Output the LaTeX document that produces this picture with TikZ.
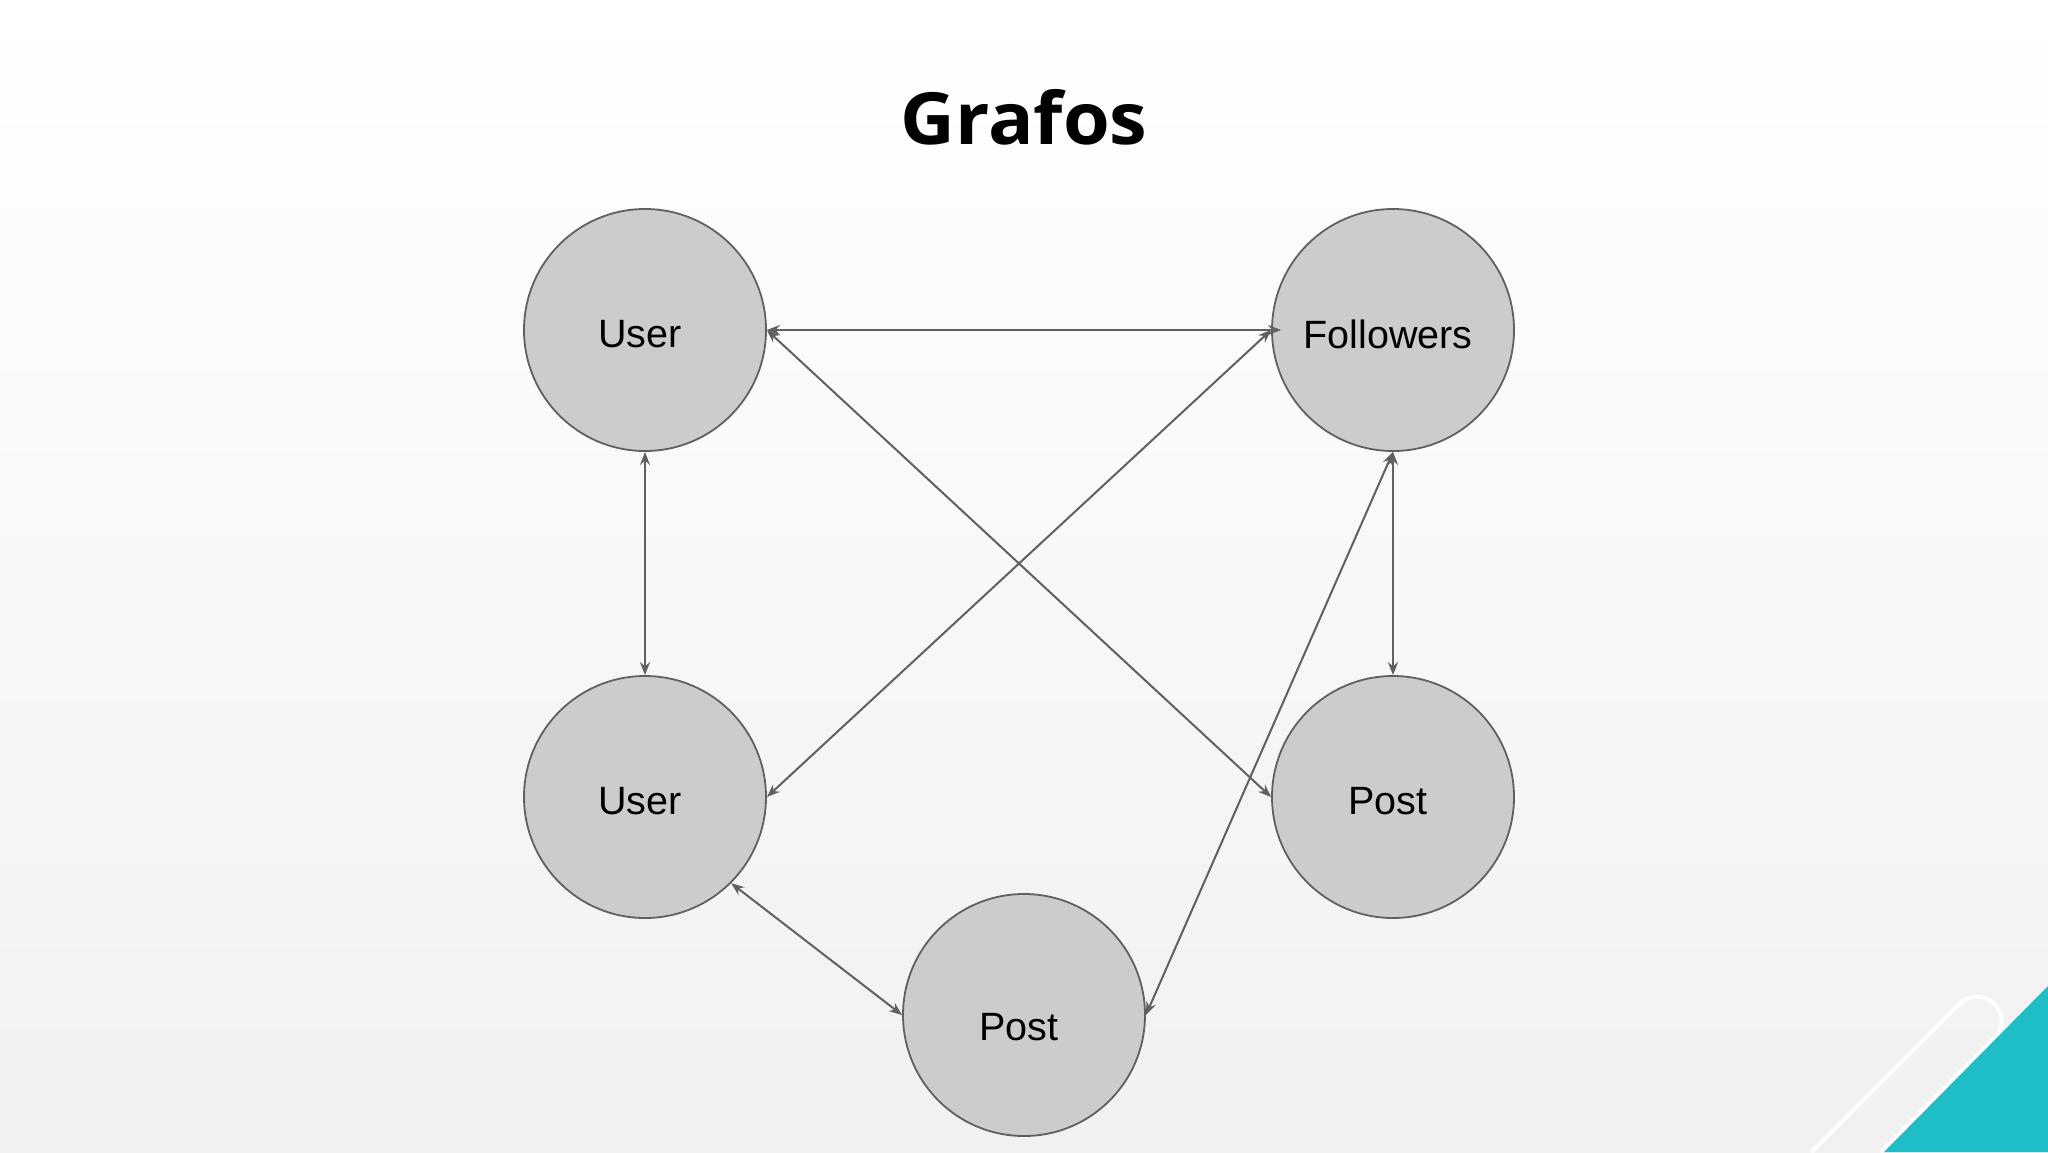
\documentclass[tikz,border=0pt]{standalone}
\usepackage{fontspec}
\setmainfont{Liberation Sans}
\newfontfamily\titlefont[FakeStretch=1.05]{Open Sans}
\usetikzlibrary{arrows.meta}
\definecolor{bgbot}{HTML}{F1F1F1}
\definecolor{nodefill}{HTML}{CCCCCC}
\definecolor{edgecol}{HTML}{606060}
\definecolor{accentteal}{HTML}{1FBDC6}
\newcommand\lbl[2][-4pt]{\hspace*{-10pt}\raisebox{#1}[\height][0pt]{#2}}
\begin{document}
\begin{tikzpicture}[x=1pt,y=-1pt,
  circ/.style={circle, draw=edgecol, line width=1.8pt, fill=nodefill,
    minimum size=242pt, inner sep=0pt, font=\fontsize{39.5}{46}\selectfont},
  link/.style={edgecol, line width=2pt,
    {Stealth[length=13pt,width=10pt]}-{Stealth[length=13pt,width=10pt]}},
  titlestyle/.style={font=\titlefont\bfseries\fontsize{72}{84}\selectfont, inner sep=0pt}]
\useasboundingbox (0,0) rectangle (2048,1152);
\shade[top color=white, bottom color=bgbot] (0,0) rectangle (2048,1152);
% corner decoration
\draw[white, line width=4pt] (1811.4,1152) -- (1959.7,1003.7)
   arc[start angle=225, end angle=405, radius=24.5] -- (1880.6,1152);
\fill[accentteal] (1884,1152) -- (2048,986) -- (2048,1152) -- cycle;
% title
\node[titlestyle] (title) at (1024,117) {Grafos};
% nodes
\node[circ] (u1) at (645,330) {\lbl{User}};
\node[circ] (fo) at (1393,330) {\lbl{Followers}};
\node[circ] (u2) at (645,797) {\lbl{User}};
\node[circ] (p1) at (1393,797) {\lbl{Post}};
\node[circ] (p2) at (1024,1015) {\lbl[-12pt]{Post}};
% edges
\draw[link, shorten >=-10pt] (u1.east) -- (fo.west);
\draw[link] (u1.east) -- (p1.west);
\draw[link] (u2.east) -- (fo.west);
\draw[link] (u1.south) -- (u2.north);
\draw[link] (fo.south) -- (p1.north);
\draw[link] (fo.south) -- (p2.east);
\draw[link] (u2.south east) -- (p2.west);
\end{tikzpicture}
\end{document}
